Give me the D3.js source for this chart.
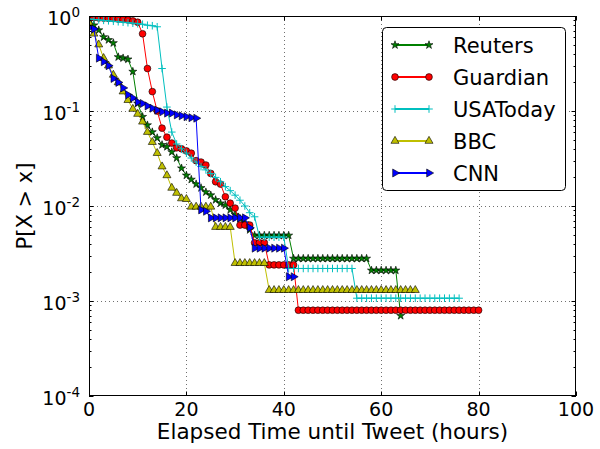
<!DOCTYPE html>
<html>
<head>
<meta charset="utf-8">
<script src="https://cdn.jsdelivr.net/npm/d3@7"></script>
<style>
  html, body { margin: 0; padding: 0; background: #fff; }
  svg { display: block; font-family: "DejaVu Sans", sans-serif; }
</style>
</head>
<body>
<svg id="chart" width="600" height="449"></svg>
<script>
// ---- data: P[X > x] per elapsed hour (index = hour) ----
const seriesNames = ["Reuters", "Guardian", "USAToday", "BBC", "CNN"];

const reuters = [0.95,0.8,0.71,0.6,0.56,0.52,0.37,0.36,0.35,0.26,
  0.12,0.087,0.071,0.06,0.052,0.044,0.042,0.037,0.032,0.025,
  0.021,0.019,0.017,0.0155,0.014,0.013,0.0116,0.0107,0.0102,0.0091,
  0.0081,0.0074,0.0066,0.0056,
  0.0049,0.0049,0.0049,0.0049,0.0049,0.0049,0.0049,0.0049,
  0.0028,0.0028,0.0028,0.0028,0.0028,0.0028,0.0028,0.0028,
  0.0028,0.0028,0.0028,0.0028,0.0028,0.0028,0.0028,0.0028,
  0.0021,0.0021,0.0021,0.0021,0.0021,0.0021,
  0.0007];

const guardian = [0.97,0.96,0.955,0.95,0.945,0.94,0.93,0.92,0.91,0.89,
  0.86,0.65,0.28,0.16,0.1,0.066,0.053,0.046,0.041,0.04,
  0.038,0.036,0.03,0.029,0.027,0.022,0.018,0.017,0.0125,0.0107,
  0.0095,0.0063,0.0063,0.0063,0.0041,0.0041,0.0041,
  0.0024,0.0024,0.0024,0.0024,0.0024,0.0024,
  0.0008,0.0008,0.0008,0.0008,0.0008,0.0008,0.0008,0.0008,0.0008,0.0008,
  0.0008,0.0008,0.0008,0.0008,0.0008,0.0008,0.0008,0.0008,0.0008,0.0008,
  0.0008,0.0008,0.0008,0.0008,0.0008,0.0008,0.0008,0.0008,0.0008,0.0008,
  0.0008,0.0008,0.0008,0.0008,0.0008,0.0008,0.0008,0.0008];

const usatoday = [0.93,0.92,0.91,0.9,0.89,0.88,0.87,0.86,0.85,0.84,
  0.83,0.82,0.8,0.79,0.77,0.28,0.11,0.06,0.045,0.04,
  0.036,0.032,0.029,0.026,0.024,0.022,0.02,0.018,0.016,0.0145,
  0.013,0.0115,0.01,0.0085,0.0077,
  0.0047,0.0047,0.0047,0.0047,0.0047,0.0047,
  0.0022,0.0022,0.0022,0.0022,0.0022,0.0022,0.0022,
  0.0022,0.0022,0.0022,0.0022,0.0022,0.0022,0.0022,
  0.00107,0.00107,0.00107,0.00107,0.00107,0.00107,0.00107,0.00107,
  0.00107,0.00107,0.00107,0.00107,0.00107,0.00107,0.00107,0.00107,
  0.00107,0.00107,0.00107,0.00107,0.00107,0.00107];

const bbc = [0.85,0.65,0.5,0.36,0.3,0.24,0.2,0.16,0.13,0.105,
  0.093,0.077,0.06,0.047,0.036,0.026,0.021,0.0155,0.0137,0.012,
  0.0118,
  0.0098,0.0098,0.0098,0.0098,0.0098,
  0.006,0.006,0.006,0.006,
  0.0025,0.0025,0.0025,0.0025,0.0025,0.0025,0.0025,
  0.0013,0.0013,0.0013,0.0013,0.0013,0.0013,0.0013,0.0013,0.0013,0.0013,
  0.0013,0.0013,0.0013,0.0013,0.0013,0.0013,0.0013,0.0013,0.0013,0.0013,
  0.0013,0.0013,0.0013,0.0013,0.0013,0.0013,0.0013,0.0013,0.0013,0.0013,
  0.0013];

const cnn = [0.75,0.73,0.36,0.33,0.3,0.22,0.2,0.175,0.148,0.137,
  0.124,0.12,0.113,0.107,0.102,0.098,0.095,0.095,0.091,0.089,
  0.087,0.085,0.084,0.0091,0.0088,
  0.0075,0.0075,0.0075,0.0075,0.0075,0.0075,0.0075,0.0075,
  0.0059,
  0.0036,0.0036,0.0036,0.0036,0.0036,0.0036,0.0036,
  0.0018,0.0018];

const xTicks = [0, 20, 40, 60, 80, 100];
const yTickExps = [0, -1, -2, -3, -4];
const xLabel = "Elapsed Time until Tweet (hours)";
const yLabel = "P[X > x]";

// ---- styles ----
const styles = {
  Reuters:  { color: "#008000", marker: "star" },
  Guardian: { color: "#ff0000", marker: "circle" },
  USAToday: { color: "#00bfbf", marker: "plus" },
  BBC:      { color: "#bfbf00", marker: "triangle" },
  CNN:      { color: "#0000ff", marker: "right" }
};
const seriesData = { Reuters: reuters, Guardian: guardian, USAToday: usatoday, BBC: bbc, CNN: cnn };

const L = 89, R = 576, T = 16, B = 396;
const x = d3.scaleLinear().domain([0, 100]).range([L, R]);
const y = d3.scaleLog().domain([1e-4, 1]).range([B, T]);

const svg = d3.select("#chart");
svg.append("defs").append("clipPath").attr("id", "plotclip")
  .append("rect").attr("x", L).attr("y", T).attr("width", R - L).attr("height", B - T);

// grid
const grid = svg.append("g");
xTicks.filter(t => t > 0 && t < 100).forEach(t => {
  const xx = Math.round(x(t)) + 0.5;
  grid.append("line").attr("x1", xx).attr("x2", xx).attr("y1", T).attr("y2", B)
    .attr("stroke", "#000").attr("stroke-width", 0.8).attr("stroke-dasharray", "1,3").attr("opacity", 0.7);
});
yTickExps.filter(e => e < 0 && e > -4).forEach(e => {
  const yy = Math.round(y(Math.pow(10, e))) + 0.5;
  grid.append("line").attr("x1", L).attr("x2", R).attr("y1", yy).attr("y2", yy)
    .attr("stroke", "#000").attr("stroke-width", 0.8).attr("stroke-dasharray", "1,3").attr("opacity", 0.7);
});

// marker generator
function markerPath(kind) {
  switch (kind) {
    case "star": return d3.symbol(d3.symbolStar, 20)();
    case "circle": return d3.symbol(d3.symbolCircle, 36)();
    case "triangle": return d3.symbol(d3.symbolTriangle, 28)();
    case "right": return d3.symbol(d3.symbolTriangle, 28)();
    case "plus": return "M-3.8,0H3.8M0,-3.8V3.8";
  }
}
function drawMarker(g, kind, color, px, py) {
  const p = g.append("path").attr("d", markerPath(kind));
  if (kind === "plus") {
    p.attr("fill", "none").attr("stroke", color).attr("stroke-width", 1);
  } else {
    p.attr("fill", color).attr("stroke", "#000").attr("stroke-width", 0.6);
  }
  p.attr("transform", `translate(${px},${py})` + (kind === "right" ? " rotate(90)" : ""));
}

// series
const plot = svg.append("g").attr("clip-path", "url(#plotclip)");
const line = d3.line().x((d, i) => x(i)).y(d => y(d));
seriesNames.forEach(name => {
  const st = styles[name], data = seriesData[name];
  const g = plot.append("g");
  g.append("path").datum(data).attr("d", line)
    .attr("fill", "none").attr("stroke", st.color).attr("stroke-width", 1);
  data.forEach((d, i) => drawMarker(g, st.marker, st.color, x(i), y(d)));
});

// frame
svg.append("rect").attr("x", L + 0.5).attr("y", T + 0.5).attr("width", R - L - 1).attr("height", B - T - 1)
  .attr("fill", "none").attr("stroke", "#000").attr("stroke-width", 1);

// ticks
const tk = svg.append("g").attr("stroke", "#000").attr("stroke-width", 1);
xTicks.forEach(t => {
  const xx = Math.round(x(t)) + 0.5;
  tk.append("line").attr("x1", xx).attr("x2", xx).attr("y1", B).attr("y2", B - 4.5);
  tk.append("line").attr("x1", xx).attr("x2", xx).attr("y1", T).attr("y2", T + 4.5);
});
yTickExps.forEach(e => {
  const yy = Math.round(y(Math.pow(10, e))) + 0.5;
  tk.append("line").attr("x1", L).attr("x2", L + 4.5).attr("y1", yy).attr("y2", yy);
  tk.append("line").attr("x1", R).attr("x2", R - 4.5).attr("y1", yy).attr("y2", yy);
  if (e > -4) {
    for (let m = 2; m <= 9; m++) {
      const ym = Math.round(y(m * Math.pow(10, e - 1))) + 0.5;
      tk.append("line").attr("x1", L).attr("x2", L + 2.5).attr("y1", ym).attr("y2", ym);
      tk.append("line").attr("x1", R).attr("x2", R - 2.5).attr("y1", ym).attr("y2", ym);
    }
  }
});

// tick labels
const labels = svg.append("g").attr("fill", "#000");
xTicks.forEach(t => {
  labels.append("text").attr("x", x(t)).attr("y", B + 20).attr("text-anchor", "middle")
    .attr("font-size", 19).text(t);
});
yTickExps.forEach(e => {
  const yy = y(Math.pow(10, e));
  const tx = labels.append("text").attr("x", L - 9).attr("y", yy + 9).attr("text-anchor", "end").attr("font-size", 19);
  tx.append("tspan").text("10");
  tx.append("tspan").attr("dy", -8).attr("font-size", 13.5).text(e === 0 ? "0" : "-" + Math.abs(e));
});

// axis labels
svg.append("text").attr("x", (L + R) / 2).attr("y", 439).attr("text-anchor", "middle")
  .attr("font-size", 21.5).text(xLabel);
svg.append("text").attr("transform", `translate(32,${(T + B) / 2}) rotate(-90)`).attr("text-anchor", "middle")
  .attr("font-size", 21).text(yLabel);

// legend
const lg = svg.append("g");
lg.append("rect").attr("x", 382.5).attr("y", 27.5).attr("width", 183).attr("height", 163).attr("rx", 4)
  .attr("fill", "#fff").attr("stroke", "#000").attr("stroke-width", 1);
seriesNames.forEach((name, i) => {
  const st = styles[name];
  const cy = 45 + i * 32;
  lg.append("line").attr("x1", 395).attr("x2", 429).attr("y1", cy).attr("y2", cy)
    .attr("stroke", st.color).attr("stroke-width", 2);
  drawMarker(lg, st.marker, st.color, 395, cy);
  drawMarker(lg, st.marker, st.color, 429, cy);
  lg.append("text").attr("x", 453).attr("y", cy + 7.5).attr("font-size", 21).text(name);
});
</script>
</body>
</html>
